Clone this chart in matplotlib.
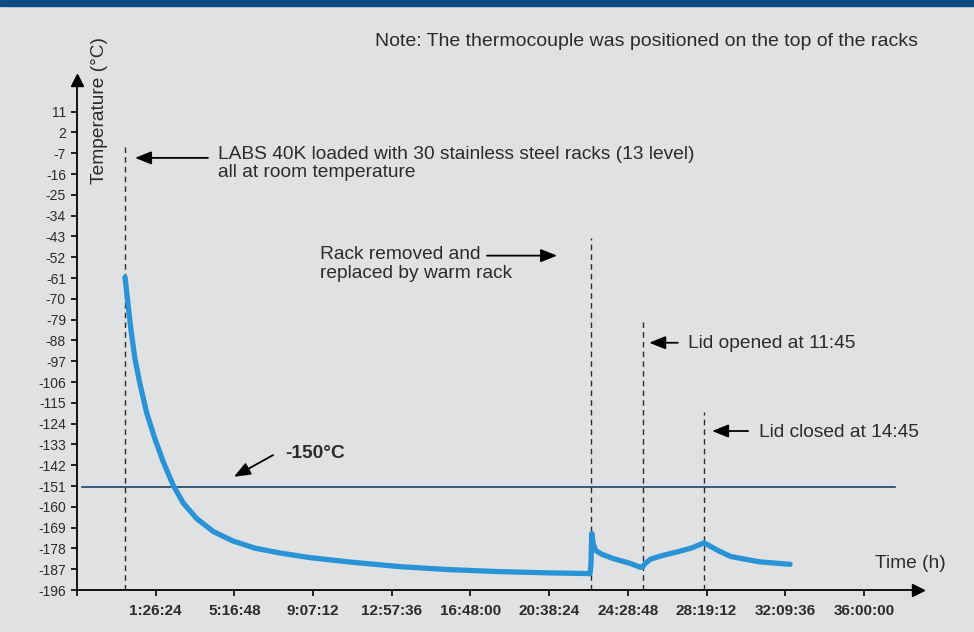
import matplotlib
matplotlib.use("Agg")
import matplotlib.pyplot as plt

# ── Data ──────────────────────────────────────────────────────────────────────

# time (h) and temperature (°C)
TIME_H = [-0.057, 0.104, 0.235, 0.431, 0.675, 1.002, 1.407, 1.812, 2.300, 2.788,
          3.442, 4.252, 5.213, 6.287, 7.507, 8.971, 10.923, 13.364, 15.804,
          18.244, 20.684, 22.637, 22.68, 22.72, 22.78, 22.9, 23.2, 23.8, 24.6,
          25.1, 25.2, 25.35, 25.6, 26.2, 26.9, 27.6, 28.2, 28.9, 29.5, 30.1,
          30.9, 32.4]
TEMP_C = [-60.6, -73.4, -83.5, -96.1, -106.9, -119.4, -130.7, -140.6, -150.8,
          -158.4, -165.1, -170.7, -174.8, -177.9, -180.0, -182.0, -183.9, -185.9,
          -187.2, -188.05, -188.6, -188.9, -185.0, -171.5, -175.5, -178.8, -180.5,
          -182.5, -184.5, -186.2, -186.0, -184.3, -182.6, -181.0, -179.5, -177.8,
          -175.6, -179.0, -181.5, -182.5, -183.8, -184.9]

THRESHOLD = -151.6
THRESHOLD_SPAN = (-2.17, 37.52)

# event markers: (time, top of dashed line)
EVENT_T   = [-0.05, 22.7, 25.2, 28.2]
EVENT_TOP = [-3.8, -43.7, -79.2, -119.0]

Y_TICKS = [11, 2, -7, -16, -25, -34, -43, -52, -61, -70, -79, -88, -97, -106,
           -115, -124, -133, -142, -151, -160, -169, -178, -187, -196]
X_TICK_LABELS = ["1:26:24", "5:16:48", "9:07:12", "12:57:36", "16:48:00",
                 "20:38:24", "24:28:48", "28:19:12", "32:09:36", "36:00:00"]
X_ORIGIN = -2.4


def hms_to_h(s):
    h, m, sec = (int(p) for p in s.split(":"))
    return h + m / 60 + sec / 3600


# ── Style ─────────────────────────────────────────────────────────────────────

BG     = "#e0e1e3"
CURVE  = "#2a93d5"
NAVY   = "#1f3f6e"
BAND   = "#0f4a82"
INK    = "#2b2b2b"
FONT   = ["Liberation Sans", "DejaVu Sans"]
ANN_FS = 13.8

plt.rcParams.update({
    "font.family": FONT,
    "font.size": 10,
})

fig = plt.figure(figsize=(9.74, 6.32), dpi=100, facecolor=BG)
ax = fig.add_axes([77 / 974, 1 - 590 / 632, 841 / 974, 510 / 632])
ax.set_facecolor(BG)

# top band
fig.patches.append(plt.Rectangle((0, 1 - 6 / 632), 1, 6 / 632,
                                 transform=fig.transFigure, color=BAND, zorder=0))

ax.set_xlim(X_ORIGIN, X_ORIGIN + 41.04)
ax.set_ylim(-196, 24.7)

# threshold line
ax.plot(THRESHOLD_SPAN, [THRESHOLD, THRESHOLD], color=NAVY, lw=1.2, zorder=2)

# event lines
for t, top in zip(EVENT_T, EVENT_TOP):
    ax.plot([t, t], [-196, top], color=INK, lw=1, dashes=(4, 3), zorder=1)

# temperature curve
ax.plot(TIME_H, TEMP_C, color=CURVE, lw=3.8, solid_capstyle="round",
        solid_joinstyle="round", zorder=3)

# axes
for side in ["top", "right"]:
    ax.spines[side].set_visible(False)
for side in ["left", "bottom"]:
    ax.spines[side].set_color("black")
    ax.spines[side].set_linewidth(1.3)
ax.plot(1, 0, ">", color="black", ms=9, transform=ax.transAxes, clip_on=False)
ax.plot(0, 1, "^", color="black", ms=9, transform=ax.transAxes, clip_on=False)

ax.set_yticks(Y_TICKS)
ax.set_yticklabels([str(v) for v in Y_TICKS], fontsize=10, color=INK)
xt = [X_ORIGIN] + [hms_to_h(s) for s in X_TICK_LABELS]
ax.set_xticks(xt)
ax.set_xticklabels([""] + X_TICK_LABELS, fontsize=11, fontweight="bold", color=INK)
ax.tick_params(axis="both", direction="out", length=4, width=1.2, color="black")
ax.tick_params(axis="x", pad=6)
ax.tick_params(axis="y", pad=4)

# ── Labels & annotations ──────────────────────────────────────────────────────

fig.text(100 / 974, 1 - 110 / 632, "Temperature (°C)", rotation=90,
         ha="center", va="center", fontsize=13.8, color=INK)
fig.text(946 / 974, 1 - 563 / 632, "Time (h)", ha="right",
         va="center", fontsize=13.8, color=INK)
fig.text(918 / 974, 1 - 42 / 632,
         "Note: The thermocouple was positioned on the top of the racks",
         ha="right", va="center", fontsize=14, color=INK)

arrow = dict(arrowstyle="-|>,head_length=0.55,head_width=0.22", color="black",
             lw=1.3, mutation_scale=18, shrinkA=0, shrinkB=0)

ax.annotate("", xy=(0.43, -9.0), xytext=(3.99, -9.0), arrowprops=arrow)
ax.text(4.48, -11.5,
        "LABS 40K loaded with 30 stainless steel racks (13 level)\nall at room temperature",
        ha="left", va="center", fontsize=ANN_FS, color=INK, linespacing=1.12)

ax.annotate("", xy=(21.03, -51.3), xytext=(17.61, -51.3), arrowprops=arrow)
ax.text(9.46, -55, "Rack removed and\nreplaced by warm rack",
        ha="left", va="center", fontsize=ANN_FS, color=INK, linespacing=1.12)

ax.annotate("", xy=(25.52, -89), xytext=(26.92, -89), arrowprops=arrow)
ax.text(27.42, -89.5, "Lid opened at 11:45", ha="left", va="center",
        fontsize=ANN_FS, color=INK)

ax.annotate("", xy=(28.59, -127.2), xytext=(30.35, -127.2), arrowprops=arrow)
ax.text(30.88, -127.7, "Lid closed at 14:45", ha="left", va="center",
        fontsize=ANN_FS, color=INK)

ax.annotate("", xy=(5.26, -147), xytext=(7.17, -137.6), arrowprops=arrow)
ax.text(7.75, -136.8, "-150°C", ha="left", va="center", fontsize=13.8,
        fontweight="bold", color=INK)

fig.savefig("out.png", dpi=100, facecolor=BG)
